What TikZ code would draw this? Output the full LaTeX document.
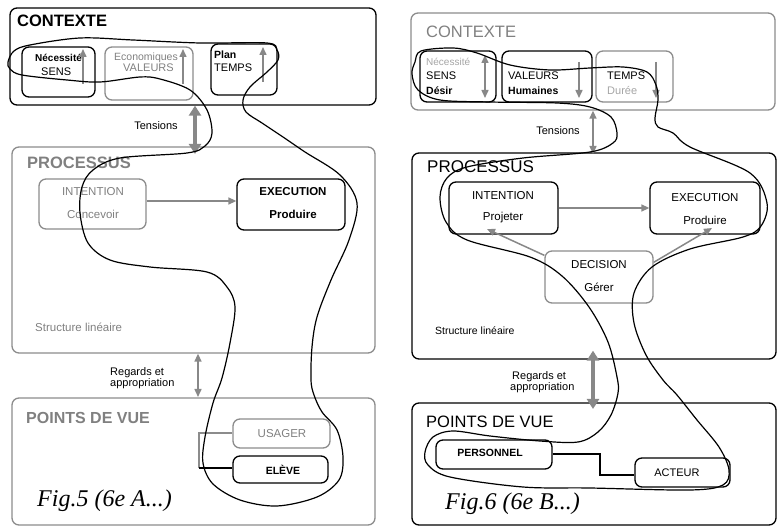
\documentclass[tikz,border=0pt]{standalone}
\usepackage{fontspec}
\setmainfont{Liberation Sans}
\newfontfamily\figfont{Liberation Serif}
\usetikzlibrary{arrows.meta}
\definecolor{bgray}{RGB}{140,140,140}
\definecolor{tgray}{RGB}{128,128,128}
\definecolor{lgray}{RGB}{165,165,165}
\definecolor{agray}{RGB}{136,136,136}
\begin{document}
\begin{tikzpicture}[x=1pt,y=-1pt,
  blackbox/.style={draw=black, line width=1.3pt, rounded corners=7pt, inner sep=0pt},
  graybox/.style={draw=bgray, line width=1.3pt, rounded corners=7pt, inner sep=0pt},
  lbl/.style={font=\fontsize{11}{12}\selectfont, inner sep=0pt},
  blbl/.style={font=\fontsize{10.5}{12}\selectfont\bfseries, inner sep=0pt},
  ttl/.style={font=\fontsize{16.5}{18}\selectfont, inner sep=0pt, anchor=west},
  fig/.style={font=\fontsize{24}{26}\selectfont\figfont\itshape, inner sep=0pt, anchor=base west},
  garr/.style={draw=agray, line width=1.5pt, -{Triangle[length=8pt,width=7pt]}},
  gdarr/.style={draw=agray, line width=1.5pt, {Triangle[length=8pt,width=7pt]}-{Triangle[length=8pt,width=7pt]}},
  thickarr/.style={draw=agray, line width=4pt, {Triangle[length=10pt,width=12pt]}-{Triangle[length=10pt,width=12pt]}},
  freeloop/.style={draw=black, line width=1.2pt}]
\useasboundingbox (0,0) rectangle (777,526);

% ================= LEFT (Fig.5) =================
\node[blackbox, minimum width=366pt, minimum height=97pt] (ctxL) at (193,56.5) {};
\node[ttl, font=\fontsize{16.5}{18}\selectfont\bfseries] (ctxLt) at (17,21) {CONTEXTE};
\node[blackbox, minimum width=73pt, minimum height=50pt] (sensL) at (58.5,72) {};
\node[graybox, minimum width=88pt, minimum height=53pt] (valL) at (149,73.5) {};
\node[blackbox, minimum width=66pt, minimum height=51pt] (tempsL) at (244,69.5) {};
\node[blbl, anchor=west, font=\fontsize{10}{12}\selectfont\bfseries] (necL) at (35,58) {Nécessité};
\node[lbl, anchor=west] (sensLt) at (41,72) {SENS};
\node[lbl, anchor=west, text=tgray, font=\fontsize{10.5}{12}\selectfont] (ecoL) at (114,58) {Economiques};
\node[lbl, anchor=west, text=tgray] (valLt) at (123,68) {VALEURS};
\node[blbl, anchor=west] (planL) at (214,55) {Plan};
\node[lbl, anchor=west] (tempsLt) at (214,68) {TEMPS};
\draw[garr] (83,84) -- (83,49);
\draw[garr] (183,84) -- (183,49);
\draw[garr] (263,82) -- (263,47);

\node[lbl] (tensL) at (156,126) {Tensions};
\node[graybox, minimum width=363pt, minimum height=206pt] (procL) at (193.5,250) {};
\node[ttl, text=tgray, font=\fontsize{16.5}{18}\selectfont\bfseries] (procLt) at (27,163) {PROCESSUS};
\draw[thickarr] (ctxL.south -| 195,0) -- (195,154);
\node[graybox, minimum width=107pt, minimum height=50pt] (intL) at (92.5,204) {};
\node[lbl, text=tgray, font=\fontsize{11.5}{12}\selectfont] at (93,192) {INTENTION};
\node[lbl, text=tgray, font=\fontsize{11.5}{12}\selectfont] at (93,214) {Concevoir};
\node[blackbox, minimum width=108pt, minimum height=51pt] (execL) at (291,204.5) {};
\node[blbl, font=\fontsize{11.5}{12}\selectfont\bfseries] at (293,192) {EXECUTION};
\node[blbl, font=\fontsize{11.5}{12}\selectfont\bfseries] at (293,214) {Produire};
\draw[garr] (intL.east |- 0,201) -- (execL.west |- 0,201);
\node[lbl, anchor=west, text=tgray, font=\fontsize{11.5}{12}\selectfont] (strL) at (35,327) {Structure linéaire};

\node[graybox, minimum width=363pt, minimum height=127pt] (pdvL) at (193.5,461.5) {};
\node[ttl, text=tgray, font=\fontsize{16}{18}\selectfont\bfseries] (pdvLt) at (26,418) {POINTS DE VUE};
\draw[gdarr] (procL.south -| 198,0) -- (198,397);
\node[lbl, anchor=west] (regL) at (110,373) {Regards et};
\node[lbl, anchor=west] (appL) at (110,384) {appropriation};
\node[graybox, minimum width=97pt, minimum height=29pt] (usager) at (281.5,433.5) {};
\node[lbl, text=tgray, font=\fontsize{11.5}{12}\selectfont] at (282,434) {USAGER};
\node[blackbox, minimum width=95pt, minimum height=27pt] (eleve) at (280.5,469.5) {};
\node[blbl] at (283,470) {ELÈVE};
\coordinate (brT) at (199,433);
\coordinate (brB) at (199,468);
\draw[bgray, line width=1.2pt] (usager.west |- brT) -- (brT) -- (brB);
\draw[black, line width=1.2pt] (brB) -- (eleve.west |- brB);
\node[fig] (fig5) at (37,507) {Fig.5 (6e A...)};

% ================= RIGHT (Fig.6) =================
\node[graybox, minimum width=364pt, minimum height=97pt] (ctxR) at (593,61.5) {};
\node[ttl, text=tgray] (ctxRt) at (426,32) {CONTEXTE};
\node[blackbox, minimum width=76pt, minimum height=51pt] (sensR) at (458,76.5) {};
\node[blackbox, minimum width=90pt, minimum height=51pt] (valR) at (547,76.5) {};
\node[graybox, minimum width=77pt, minimum height=51pt] (tempsR) at (634.5,76.5) {};
\node[lbl, anchor=west, text=lgray, font=\fontsize{10}{11}\selectfont] at (426,62) {Nécessité};
\node[lbl, anchor=west] at (426,76) {SENS};
\node[blbl, anchor=west] at (426,91) {Désir};
\node[lbl, anchor=west] at (508,76) {VALEURS};
\node[blbl, anchor=west] at (508,91) {Humaines};
\node[lbl, anchor=west] at (607,76) {TEMPS};
\node[lbl, anchor=west, text=lgray] at (607,91) {Durée};
\draw[gdarr] (485,55) -- (485,98);
\draw[garr] (579,62) -- (579,98);
\draw[garr] (656,62) -- (656,98);

\node[lbl] (tensR) at (558,131) {Tensions};
\node[blackbox, minimum width=364pt, minimum height=206pt] (procR) at (594,256) {};
\node[ttl, font=\fontsize{17}{18}\selectfont] (procRt) at (427,167) {PROCESSUS};
\draw[gdarr] (ctxR.south -| 593,0) -- (593,154);
\node[blackbox, minimum width=109pt, minimum height=52pt] (intR) at (503.5,208) {};
\node[lbl, font=\fontsize{11.5}{12}\selectfont] at (503,196) {INTENTION};
\node[lbl, font=\fontsize{11.5}{12}\selectfont] at (503,218) {Projeter};
\node[blackbox, minimum width=110pt, minimum height=52pt] (execR) at (705,208) {};
\node[lbl, font=\fontsize{11.5}{12}\selectfont] at (705,198) {EXECUTION};
\node[lbl, font=\fontsize{11.5}{12}\selectfont] at (705,220) {Produire};
\draw[garr] (intR.east) -- (execR.west);
\node[graybox, minimum width=108pt, minimum height=52pt] (decR) at (599,277) {};
\node[lbl, font=\fontsize{11.5}{12}\selectfont] at (599,265) {DECISION};
\node[lbl, font=\fontsize{11.5}{12}\selectfont] at (599,287) {Gérer};
\draw[garr] (decR.north west) ++(0,5) -- (487,229);
\draw[garr] (decR.north east) ++(0,12) -- (712,228);
\node[lbl, anchor=west, font=\fontsize{10.5}{12}\selectfont] (strR) at (435,331) {Structure linéaire};

\node[blackbox, minimum width=364pt, minimum height=122pt] (pdvR) at (594,464) {};
\node[ttl] (pdvRt) at (426,422) {POINTS DE VUE};
\draw[thickarr] (procR.south -| 593,0) ++(0,-9) -- (593,409);
\node[lbl, anchor=west] (regR) at (512,377) {Regards et};
\node[lbl, anchor=west] (appR) at (510,388) {appropriation};
\node[blackbox, minimum width=116pt, minimum height=29pt] (persR) at (494,454.5) {};
\node[blbl] at (490,453) {PERSONNEL};
\node[blackbox, minimum width=95pt, minimum height=29pt] (actR) at (682.5,472.5) {};
\node[lbl] at (677,473) {ACTEUR};
\coordinate (kn1) at (600,454);
\coordinate (kn2) at (600,475);
\draw[black, line width=1.2pt] (persR.east |- kn1) -- (kn1) -- (kn2) -- (actR.west |- kn2);
\node[fig] (fig6) at (445,510) {Fig.6 (6e B...)};

% ================= freehand loops =================
\draw[freeloop] plot[smooth cycle, tension=0.55] coordinates {
 (8,62) (14,51) (30,45) (80,38) (133,40) (200,43) (267,43) (277,50) (278,60)
 (267,72) (250,87) (243,100) (246,112) (262,123) (283,137) (305,152) (340,175)
 (357,203) (349,240) (331,280) (317,317) (312,347) (311,380) (314,395) (322,412)
 (337,430) (343,457) (339,480) (317,497) (277,506) (240,500) (213,484) (203,463)
 (205,437) (213,403) (222,378) (230,343) (235,307) (227,287) (207,272) (150,267)
 (110,260) (88,243) (80,213) (82,187) (93,170) (120,158) (187,153) (205,146)
 (212,133) (207,110) (190,90) (160,79) (140,77) (100,82) (67,80) (22,75) (10,69)};

\draw[freeloop] plot[smooth cycle, tension=0.55] coordinates {
 (415,62) (421,51) (453,48) (477,53) (510,65) (550,70) (590,68) (623,67) (647,72)
 (656,85) (658,100) (655,118) (658,127) (673,133) (690,147) (750,173) (767,203)
 (761,226) (743,237) (690,249) (652,267) (634,293) (634,323) (646,355) (663,380)
 (677,395) (697,420) (719,447) (729,470) (723,485) (690,490) (590,488) (523,487)
 (450,477) (428,465) (425,452) (433,437) (453,431) (490,436) (540,441) (578,442)
 (598,432) (611,415) (618,393) (617,377) (608,342) (589,307) (562,276) (530,257)
 (467,240) (446,222) (440,197) (447,178) (467,167) (523,158) (590,152) (613,143)
 (617,133) (611,117) (590,107) (557,103) (490,102) (440,100) (418,90) (412,74)};
\end{tikzpicture}
\end{document}
